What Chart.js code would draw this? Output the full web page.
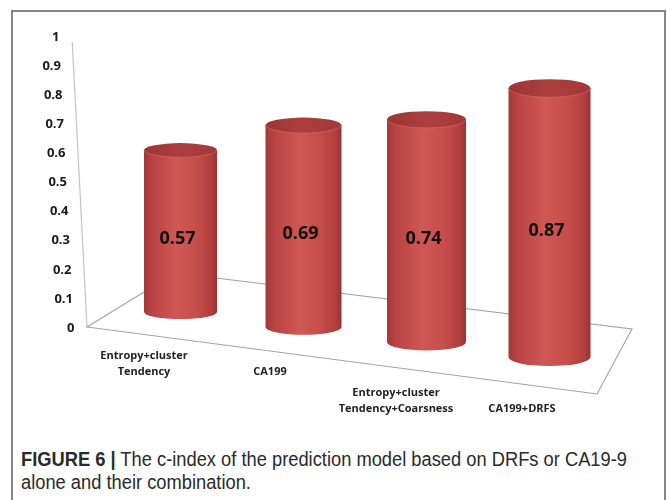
<!DOCTYPE html>
<html>
<head>
<meta charset="utf-8">
<script src="https://cdn.jsdelivr.net/npm/chart.js@4.4.0/dist/chart.umd.min.js"></script>
<style>
  body { margin: 0; background: #fff; width: 667px; height: 500px; overflow: hidden; position: relative; }
  .frame { position: absolute; left: 11px; top: 10px; width: 655px; height: 520px; border: 2px solid #858585; box-sizing: border-box; }
  #myChart { position: absolute; left: 0; top: 0; }
  .caption { position: absolute; left: 21px; top: 448px; font-family: "Liberation Sans", Arial, sans-serif; font-size: 20px; line-height: 23px; color: #2a2a2a; }
  .caption span { display: inline-block; white-space: nowrap; transform-origin: 0 0; }
</style>
</head>
<body>
<div class="frame"></div>
<canvas id="myChart" width="667" height="430"></canvas>
<div class="caption">
  <span id="cap1"><b>FIGURE 6 |</b> The c-index of the prediction model based on DRFs or CA19-9</span><br>
  <span id="cap2">alone and their combination.</span>
</div>
<script>
var categories = [['Entropy+cluster', 'Tendency'], 'CA199', ['Entropy+cluster', 'Tendency+Coarsness'], 'CA199+DRFS'];
var cIndex = [0.57, 0.69, 0.74, 0.87];
var yTicks = [0, 0.1, 0.2, 0.3, 0.4, 0.5, 0.6, 0.7, 0.8, 0.9, 1];

// condensed caption type: squeeze the regular face to the column width
var cap1 = document.getElementById('cap1');
var squeeze = 606 / cap1.getBoundingClientRect().width;
cap1.style.transform = 'scaleX(' + squeeze + ')';
document.getElementById('cap2').style.transform = 'scaleX(' + squeeze + ')';

// fake 3d: back wall edge and floor corners, relative to the value axis
function wallX(y, top, bottom) {
  return 72 + 15 * (y - top) / (bottom - top);
}

var cylinderPlugin = {
  id: 'cylinders',
  beforeDatasetsDraw: function (chart) {
    var ctx = chart.ctx;
    var y = chart.scales.y;
    var y0 = y.getPixelForValue(0);
    var y1 = y.getPixelForValue(1);
    ctx.save();
    // wall edge
    ctx.strokeStyle = '#c4c4c4';
    ctx.lineWidth = 1.2;
    ctx.beginPath();
    ctx.moveTo(wallX(y1 + 5, y1, y0), y1 + 5);
    ctx.lineTo(wallX(y0, y1, y0), y0 - 1);
    ctx.stroke();
    // floor
    ctx.strokeStyle = '#a0a0a0';
    ctx.lineWidth = 1.1;
    ctx.beginPath();
    ctx.moveTo(wallX(y0, y1, y0), y0 - 1);
    ctx.lineTo(175, y0 - 55);
    ctx.lineTo(632, y0 + 1);
    ctx.lineTo(597, y0 + 66);
    ctx.closePath();
    ctx.stroke();
    // value axis labels
    ctx.fillStyle = '#1a1a1a';
    ctx.font = 'bold 13px "Open Sans"';
    ctx.textAlign = 'right';
    ctx.textBaseline = 'middle';
    yTicks.forEach(function (v) {
      var py = y.getPixelForValue(v);
      ctx.fillText(String(v), wallX(py, y1, y0) - 12.5, py);
    });
    ctx.restore();
  },
  afterDatasetsDraw: function (chart) {
    var ctx = chart.ctx;
    var area = chart.chartArea;
    var y = chart.scales.y;
    var y0 = y.getPixelForValue(0);
    var meta = chart.getDatasetMeta(0);
    ctx.save();
    meta.data.forEach(function (bar, i) {
      var cx = bar.x;
      var t = (cx - area.left) / area.width;
      // bars further right sit nearer the viewer
      var k = 0.9615 + 0.1145 * t;
      var w = 71.5 + 12 * t;
      var ry = 6.7 + 2.7 * t;
      var yBot = y0 - 23.5 + 60 * t;
      var yTop = yBot - (y0 - bar.y) * k;
      var l = cx - w / 2, r = cx + w / 2;

      var g = ctx.createLinearGradient(l, 0, r, 0);
      g.addColorStop(0, '#a33838');
      g.addColorStop(0.12, '#b94443');
      g.addColorStop(0.45, '#d05854');
      g.addColorStop(0.72, '#c54d4a');
      g.addColorStop(0.93, '#b03e3d');
      g.addColorStop(1, '#9a3333');
      ctx.fillStyle = g;
      ctx.beginPath();
      ctx.moveTo(l, yTop);
      ctx.lineTo(l, yBot);
      ctx.ellipse(cx, yBot, w / 2, ry, 0, Math.PI, 0, true);
      ctx.lineTo(r, yTop);
      ctx.closePath();
      ctx.fill();

      var gc = ctx.createLinearGradient(l, 0, r, 0);
      gc.addColorStop(0, '#9c3535');
      gc.addColorStop(0.5, '#ad3e3e');
      gc.addColorStop(1, '#a23838');
      ctx.fillStyle = gc;
      ctx.beginPath();
      ctx.ellipse(cx, yTop, w / 2, ry, 0, 0, Math.PI * 2);
      ctx.fill();
      ctx.strokeStyle = 'rgba(220,110,105,0.6)';
      ctx.lineWidth = 1;
      ctx.beginPath();
      ctx.ellipse(cx, yTop, w / 2 - 0.5, ry, 0, 0, Math.PI);
      ctx.stroke();

      // value label
      ctx.fillStyle = '#111';
      ctx.font = 'bold 18px "Open Sans"';
      ctx.textAlign = 'center';
      ctx.textBaseline = 'middle';
      ctx.fillText(cIndex[i].toFixed(2), cx - 3, (yTop + yBot) / 2 + 8);

      // category label, staggered over two rows
      var lines = [].concat(categories[i]);
      var lastY = i < 2 ? y0 + 44 : y0 + 81;
      ctx.font = 'bold 11px "Open Sans"';
      ctx.fillStyle = '#222';
      lines.forEach(function (s, j) {
        ctx.fillText(s, cx - 38 + 12 * t, lastY - (lines.length - 1 - j) * 16);
      });
    });
    ctx.restore();
  }
};

var chart = new Chart(document.getElementById('myChart'), {
  type: 'bar',
  data: {
    labels: categories,
    datasets: [{
      label: 'c-index',
      data: cIndex,
      backgroundColor: 'rgba(0,0,0,0)',
      borderWidth: 0
    }]
  },
  options: {
    responsive: false,
    animation: false,
    layout: { padding: { left: 119, right: 56, top: 37, bottom: 102 } },
    plugins: {
      legend: { display: false },
      tooltip: { enabled: false }
    },
    scales: {
      x: { display: false },
      y: { display: false, min: 0, max: 1 }
    }
  },
  plugins: [cylinderPlugin]
});
</script>
</body>
</html>
